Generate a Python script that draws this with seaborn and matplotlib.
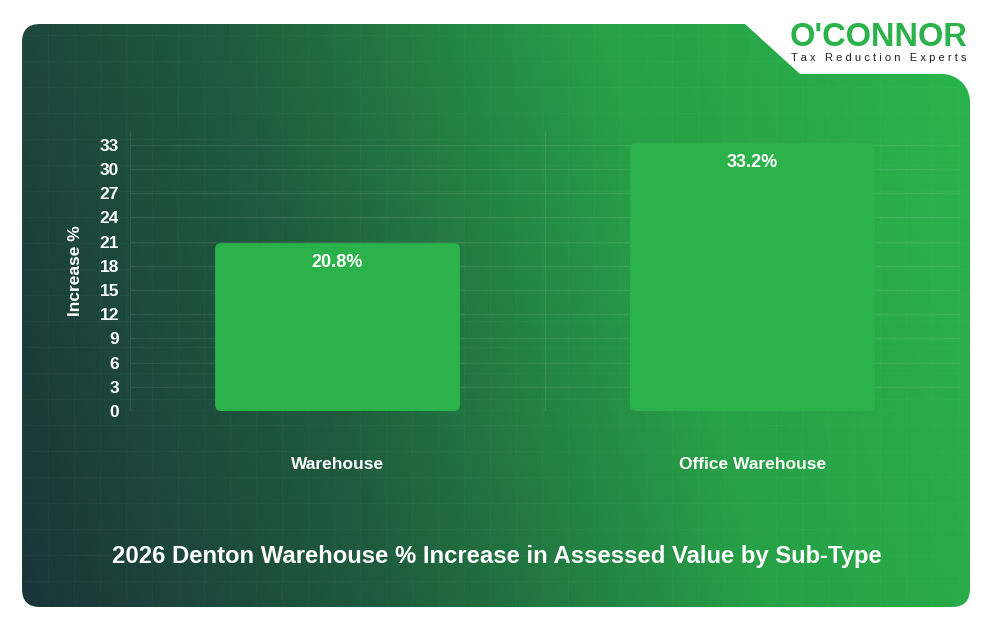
import numpy as np
import matplotlib
matplotlib.use('Agg')
import matplotlib.pyplot as plt
import seaborn as sns
import pandas as pd
from matplotlib.patches import FancyBboxPatch, Polygon
from matplotlib.colors import LinearSegmentedColormap

categories = ['Warehouse', 'Office Warehouse']
values = [20.8, 33.2]
yticks = [0, 3, 6, 9, 12, 15, 18, 21, 24, 27, 30, 33]
title = '2026 Denton Warehouse % Increase in Assessed Value by Sub-Type'

sns.set_style('white')
plt.rcParams['font.family'] = ['Liberation Sans', 'DejaVu Sans']

W, H = 994, 632
fig = plt.figure(figsize=(W / 100, H / 100), dpi=100)
fig.patch.set_facecolor('white')

# background panel in pixel coordinates (origin bottom-left)
bg = fig.add_axes([0, 0, 1, 1])
bg.set_xlim(0, W)
bg.set_ylim(0, H)
bg.axis('off')
cmap = LinearSegmentedColormap.from_list('g', ['#1a3539', '#1f5c3e', '#27a047', '#2bb44b'])
xx, yy = np.meshgrid(np.linspace(0, 1, 300), np.linspace(0, 1, 200))
grad = np.clip(xx * 0.85 + yy * 0.15, 0, 1)
im = bg.imshow(grad, extent=(22, 970, 25, 608), origin='lower', cmap=cmap, aspect='auto', zorder=1)
panel = FancyBboxPatch((22, 25), 948, 583, boxstyle='round,pad=0,rounding_size=18',
                       facecolor='none', edgecolor='none', zorder=0)
bg.add_patch(panel)
im.set_clip_path(panel)
# faint background grid
for gx in np.arange(22, 970, 26):
    bg.plot([gx, gx], [25, 608], color='white', alpha=0.025, lw=0.8, zorder=2)
for gy in np.arange(25, 608, 26):
    bg.plot([22, 970], [gy, gy], color='white', alpha=0.025, lw=0.8, zorder=2)
# white notch for logo (top right)
t = np.linspace(0, 1, 40)
cx = 745 + 55 * (0.5 - 0.5 * np.cos(np.pi * t))
cy = H - 24 - 50 * (0.5 - 0.5 * np.cos(np.pi * t))
notch = list(zip(cx, cy)) + [(942, H - 74)]
arc = np.linspace(np.pi / 2, 0, 20)
notch += list(zip(942 + 28 * np.cos(arc), H - 102 + 28 * np.sin(arc)))
notch += [(975, H - 102), (975, H - 20), (745, H - 20)]
bg.add_patch(Polygon(notch, closed=True, facecolor='white', edgecolor='none', zorder=3))
bg.text(879, H - 37, "O'CONNOR", ha='center', va='center', fontsize=23.5, fontweight='bold',
        color='#2bb24a', zorder=4)
bg.text(879, H - 58, 'T a x   R e d u c t i o n   E x p e r t s', ha='center', va='center',
        fontsize=8, color='#222222', zorder=4)
bg.text(497, H - 556, title, ha='center', va='center', fontsize=17.2, fontweight='bold',
        color='white', zorder=4)

# chart axes
ax = fig.add_axes([130 / W, 1 - 411 / H, 830 / W, 280 / H])
ax.patch.set_alpha(0)
df = pd.DataFrame({'cat': categories, 'val': values})
sns.barplot(data=df, x='cat', y='val', ax=ax, color='#2cb24a', width=0.59, saturation=1)
ax.set_xlim(-0.5, 1.5)
ax.set_ylim(0, 34.7)
for p in list(ax.patches):
    x0, w, h = p.get_x(), p.get_width(), p.get_height()
    p.set_visible(False)
    ax.add_patch(FancyBboxPatch((x0, 0), w, h, boxstyle='round,pad=0,rounding_size=0.0145',
                                mutation_aspect=51.4, facecolor='#2cb24a', edgecolor='none', zorder=3))
    ax.text(x0 + w / 2, h - 1.4, f'{h:.1f}%', ha='center', va='top', color='white',
            fontsize=13, fontweight='bold', zorder=4)
ax.set_yticks(yticks)
ax.set_yticklabels([str(v) for v in yticks], color='white', fontsize=12.5, fontweight='bold')
ax.set_xticks(range(len(categories)))
ax.set_xticklabels(categories, color='white', fontsize=12.5, fontweight='bold')
ax.tick_params(axis='x', length=0, pad=33)
ax.tick_params(axis='y', length=6, color=(1, 1, 1, 0.08), pad=2)
for v in yticks:
    ax.axhline(v, color='white', alpha=0.08, lw=1, zorder=1)
for v in [-0.5, 0.5, 1.5]:
    ax.axvline(v, color='white', alpha=0.08, lw=1, zorder=1)
for s in ax.spines.values():
    s.set_visible(False)
ax.set_xlabel('')
ax.set_ylabel('Increase %', color='white', fontsize=12.5, fontweight='bold', labelpad=12)

fig.savefig('out.png', dpi=100)
